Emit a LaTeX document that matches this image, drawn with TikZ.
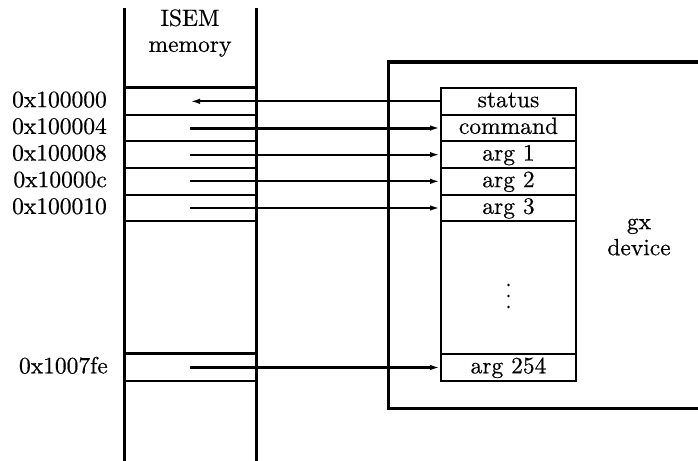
\documentclass[tikz,border=0pt]{standalone}
\usepackage{fontspec}
\setmainfont{lmroman10-regular}[Extension=.otf, FakeBold=0.5]
\usetikzlibrary{arrows.meta}
\begin{document}
\begin{tikzpicture}[x=1pt,y=-1pt,
  every node/.style={font=\fontsize{23.5}{26}\selectfont},
  cell/.style={draw, line width=2pt, minimum width=132pt, minimum height=26.67pt, inner sep=0pt},
  reg/.style={draw, line width=2pt, minimum width=135pt, minimum height=26.67pt, inner sep=0pt, text height=16.3pt, text depth=4.6pt},
  addr/.style={anchor=east, inner sep=0pt, text height=16.3pt, text depth=4.6pt},
  link/.style={line width=2pt, -{Latex[length=10pt,width=5.5pt]}},
  boldlink/.style={link, line width=3pt},
  wall/.style={line width=3pt}]
\useasboundingbox (0,0) rectangle (698,460);
% memory column walls
\draw[wall] (124,8) -- (124,462);
\draw[wall] (256,8) -- (256,462);
\node[align=center] (title) at (190,33) {ISEM\\memory};
% memory cells
\node[cell] (m0) at (190,101.33) {};
\node[cell] (m1) at (190,128) {};
\node[cell] (m2) at (190,154.67) {};
\node[cell] (m3) at (190,181.33) {};
\node[cell] (m4) at (190,208) {};
\node[cell] (m254) at (190,367.5) {};
\draw[line width=2.8pt] (m0.north west) -- (m0.north east);
\draw[line width=2.8pt] (m254.north west) -- (m254.north east);
% addresses
\node[addr] (a0) at ([xshift=-16pt]m0.west) {0x100000};
\node[addr] (a1) at ([xshift=-16pt]m1.west) {0x100004};
\node[addr] (a2) at ([xshift=-16pt]m2.west) {0x100008};
\node[addr] (a3) at ([xshift=-16pt]m3.west) {0x10000c};
\node[addr] (a4) at ([xshift=-16pt]m4.west) {0x100010};
\node[addr] (a254) at ([xshift=-15pt]m254.west) {0x1007fe};
% device outline
\draw[wall] (702,62) -- (388,62) -- (388,408) -- (702,408);
\node[align=center] (gx) at (639,237) {gx\\device};
% register file
\node[draw, line width=2pt, minimum width=135pt, minimum height=293pt, inner sep=0pt] (regs) at (508.5,234.5) {};
\node[reg] (status) at (508.5,101.33) {status};
\node[reg] (command) at (508.5,128) {command};
\node[reg] (arg1) at (508.5,154.67) {arg 1};
\node[reg] (arg2) at (508.5,181.33) {arg 2};
\node[reg] (arg3) at (508.5,208) {arg 3};
\node[reg] (arg254) at (508.5,367.5) {arg 254};
\fill (508.5,285) circle[radius=1.4pt];
\fill (508.5,296) circle[radius=1.4pt];
\fill (508.5,307) circle[radius=1.4pt];
% connectors
\draw[link] (status.west) -- (m0.center);
\draw[boldlink] (m1.center) -- (command.west);
\draw[link] (m2.center) -- (arg1.west);
\draw[link] (m3.center) -- (arg2.west);
\draw[link] (m4.center) -- (arg3.west);
\draw[boldlink] (m254.center) -- (arg254.west);
\end{tikzpicture}
\end{document}
